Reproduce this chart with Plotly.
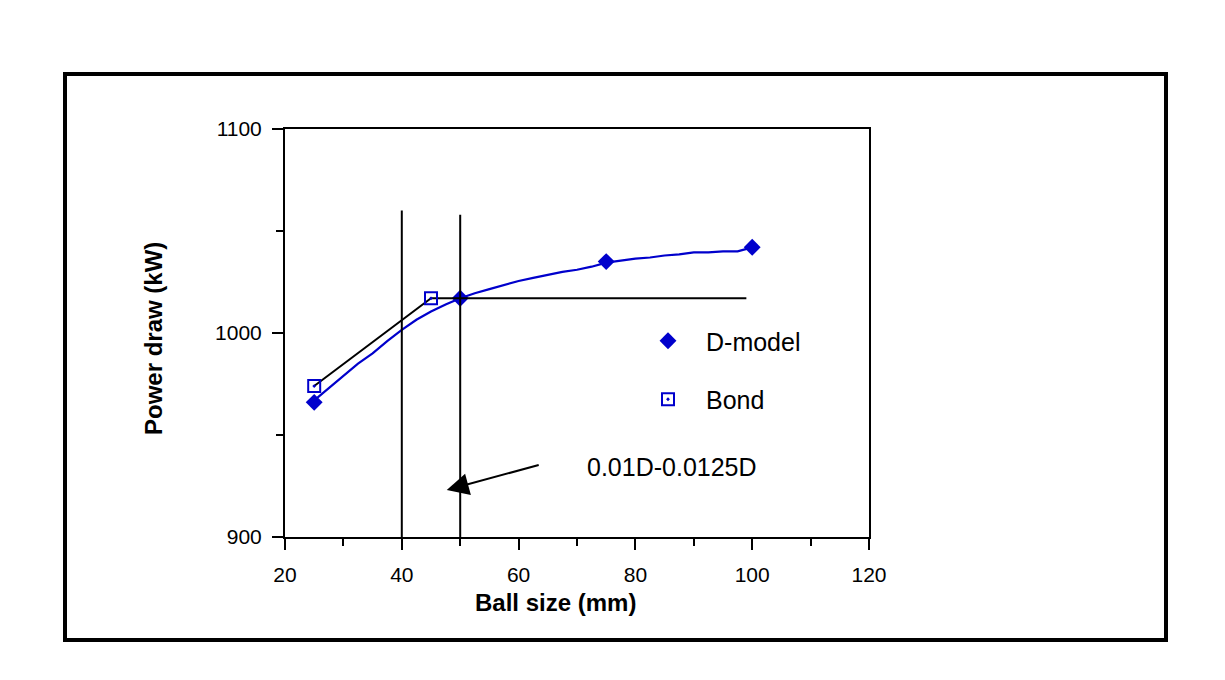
import plotly.graph_objects as go

# ---- data ----
dmodel_x = [25, 50, 75, 100]
dmodel_y = [966, 1017, 1035, 1042]

bond_x = [25, 45]
bond_y = [974, 1017]

# D-model fitted curve
curve_x = [25, 27.5, 30, 32.5, 35, 37.5, 40, 42.5, 45, 47.5, 50, 52.5, 55, 57.5, 60,
           62.5, 65, 67.5, 70, 72.5, 75, 77.5, 80, 82.5, 85, 87.5, 90, 92.5, 95, 97.5, 100]
curve_y = [967, 973, 979, 985, 990, 996, 1001.5, 1006.5, 1010.5, 1014, 1017, 1019.5, 1021.5, 1023.5, 1025.5,
           1027, 1028.5, 1030, 1031, 1032.5, 1034.5, 1035.5, 1036.5, 1037, 1038, 1038.5, 1039.5, 1039.5, 1040, 1040, 1042]

# Bond line extension
bondline_x = [25, 45, 99]
bondline_y = [974, 1017, 1017]

# vertical limit lines (ball size range)
vline1_x = [40, 40]
vline1_y = [900, 1060]
vline2_x = [50, 50]
vline2_y = [900, 1058]

arrow_head = (47.7, 923)
arrow_tail = (63.7, 935.5)
note_text = "0.01D-0.0125D"
note_pos = (86.3, 934.3)

x_ticks = [20, 40, 60, 80, 100, 120]
y_ticks = [900, 1000, 1100]
x_title = "Ball size (mm)"
y_title = "Power draw (kW)"

BLUE = "#0000CC"
FONT = "Arial, Liberation Sans, sans-serif"

fig = go.Figure()

fig.add_trace(go.Scatter(x=curve_x, y=curve_y, mode="lines",
                         line=dict(color=BLUE, width=2.2), showlegend=False, hoverinfo="skip"))
fig.add_trace(go.Scatter(x=dmodel_x, y=dmodel_y, mode="markers", name="D-model",
                         marker=dict(symbol="diamond", size=13, color=BLUE),
                         legendgroup="a"))
fig.add_trace(go.Scatter(x=bondline_x, y=bondline_y, mode="lines",
                         line=dict(color="black", width=2), showlegend=False))
fig.add_trace(go.Scatter(x=vline1_x, y=vline1_y, mode="lines",
                         line=dict(color="black", width=2), showlegend=False))
fig.add_trace(go.Scatter(x=vline2_x, y=vline2_y, mode="lines",
                         line=dict(color="black", width=2), showlegend=False))
fig.add_trace(go.Scatter(x=bond_x, y=bond_y, mode="markers", name="Bond",
                         marker=dict(symbol="square-open-dot", size=12, color=BLUE,
                                     line=dict(width=2, color=BLUE)),
                         legendgroup="b"))

fig.add_annotation(x=arrow_head[0], y=arrow_head[1], ax=arrow_tail[0], ay=arrow_tail[1],
                   xref="x", yref="y", axref="x", ayref="y", text="", showarrow=True,
                   arrowhead=2, arrowsize=2.2, arrowwidth=2, arrowcolor="black")
fig.add_annotation(x=note_pos[0], y=note_pos[1], xref="x", yref="y", text=note_text,
                   showarrow=False, font=dict(size=25, color="black", family=FONT))

# plot area in pixels
L, R, T, B = 285, 869, 129, 537
W, H = 1225, 680
pw, ph = R - L, B - T

def px(xp):
    return (xp - L) / pw

def py(yp):
    return (B - yp) / ph

# axis titles
fig.add_annotation(x=px(555), y=py(602), xref="paper", yref="paper", showarrow=False,
                   text="<b>" + x_title + "</b>", xanchor="center", yanchor="middle",
                   font=dict(size=24, color="black", family=FONT), borderpad=0)
fig.add_annotation(x=px(153), y=py(339), xref="paper", yref="paper", showarrow=False,
                   text="<b>" + y_title + "</b>", textangle=-90, xanchor="center", yanchor="middle",
                   font=dict(size=24, color="black", family=FONT))

fig.add_shape(type="rect", xref="paper", yref="paper",
              x0=px(65), x1=px(1166), y0=py(640), y1=py(74),
              line=dict(color="black", width=4), fillcolor="rgba(0,0,0,0)")

axis_common = dict(showline=True, linewidth=2, linecolor="black", mirror=True,
                   ticks="outside", ticklen=11, tickwidth=2, tickcolor="black",
                   showgrid=False, zeroline=False,
                   tickfont=dict(size=21, color="black", family=FONT))

fig.update_xaxes(range=[20, 120], tickvals=x_ticks, ticktext=[str(v) for v in x_ticks],
                 ticklabelstandoff=7,
                 minor=dict(ticks="outside", ticklen=7, tickwidth=2, tickcolor="black", dtick=10, tick0=0),
                 **axis_common)
fig.update_yaxes(range=[900, 1100], tickvals=y_ticks, ticktext=[str(v) for v in y_ticks],
                 ticklabelstandoff=6,
                 minor=dict(ticks="outside", ticklen=7, tickwidth=2, tickcolor="black", dtick=50, tick0=0),
                 **axis_common)

fig.update_layout(width=W, height=H, autosize=False,
                  margin=dict(l=L, r=W - R, t=T, b=H - B, pad=0),
                  plot_bgcolor="white", paper_bgcolor="white",
                  font=dict(family=FONT, color="black"),
                  legend=dict(x=px(630), y=py(318), xanchor="left", yanchor="top",
                              traceorder="grouped", tracegroupgap=23,
                              font=dict(size=25, color="black", family=FONT),
                              bgcolor="rgba(0,0,0,0)", itemwidth=66))

fig.write_html("out.html")
